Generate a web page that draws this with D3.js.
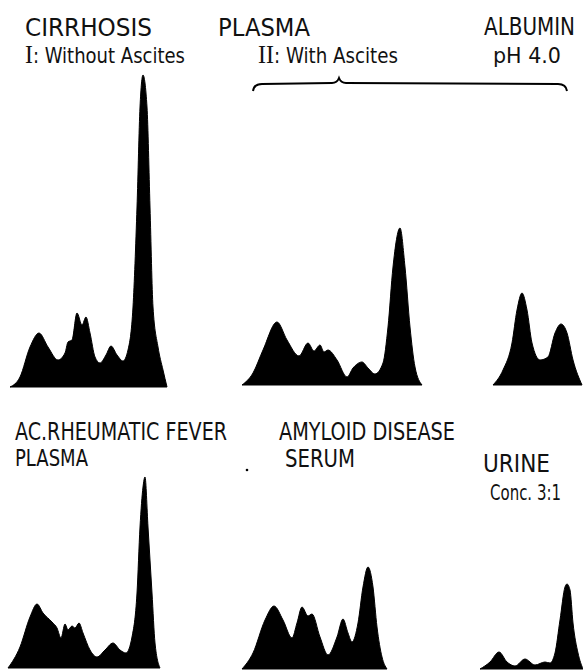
<!DOCTYPE html>
<html>
<head>
<meta charset="utf-8">
<script src="https://cdn.jsdelivr.net/npm/d3@7/dist/d3.min.js"></script>
<style>
  html, body { margin: 0; padding: 0; background: #fff; }
  svg { display: block; }
  text { font-family: "Liberation Sans Narrow", "DejaVu Sans Condensed", "Liberation Sans", sans-serif; fill: #111; }
</style>
</head>
<body>
<svg id="chart" width="583" height="671"></svg>
<script>
// ---- Data: electrophoretic patterns, [distance, height] in arbitrary units ----
const cirrhosisWithout = [[0,0],[10,10],[20,40],[29,54],[38,40],[48,27],[55,34],[58,45],[62,47],[67,74],[72,62],[76,70],[80,54],[85,30],[90,24],[96,32],[101,41],[107,32],[113,26],[118,37],[123,80],[127,180],[130,280],[133,312],[137,280],[140,180],[143,80],[148,40],[153,17],[157,0]];
const cirrhosisWith = [[0,0],[11,12],[21,35],[35,63],[45,45],[57,29],[66,42],[72,34],[78,40],[82,33],[86,35],[95,25],[105,8],[111,17],[120,23],[126,17],[133,11],[141,22],[146,58],[151,118],[158,157],[163,118],[168,58],[173,18],[180,0]];
const albuminPH4 = [[0,0],[10,15],[19,42],[24,75],[29,92],[34,75],[39,42],[47,25],[55,28],[62,52],[68,61],[74,52],[80,25],[89,0]];
const rheumaticPlasma = [[0,0],[12,21],[22,51],[29,64],[35,55],[44,46],[49,40],[53,30],[57,44],[60,38],[64,42],[67,40],[71,45],[75,35],[82,18],[89,11],[97,18],[105,25],[112,18],[118,15],[124,31],[129,75],[132,141],[135,181],[137,191],[140,141],[144,75],[147,25],[152,0]];
const amyloidSerum = [[0,0],[11,16],[23,49],[32,63],[41,49],[50,31],[55,46],[60,62],[66,53],[70,55],[78,32],[86,14],[95,32],[101,50],[106,36],[110,27],[116,46],[121,82],[126,102],[131,82],[135,42],[140,12],[145,0]];
const urineConc = [[0,0],[10,7],[19,17],[27,7],[35,3],[45,10],[55,4],[65,7],[70,6],[75,16],[80,49],[85,82],[87,85],[90,79],[93,46],[98,16],[103,0]];

const seriesList = [cirrhosisWithout, cirrhosisWith, albuminPH4, rheumaticPlasma, amyloidSerum, urineConc];

// label texts
const labelTexts = ["CIRRHOSIS", "PLASMA", "ALBUMIN", "I: Without Ascites", "II: With Ascites", "pH 4.0",
                    "AC.RHEUMATIC FEVER", "PLASMA", "AMYLOID DISEASE", "SERUM", "URINE", "Conc. 3:1"];

// ---- Layout (positions, not data) ----
const panelLayout = [
  {left: 10,  baseline: 387},
  {left: 242, baseline: 385},
  {left: 493, baseline: 385},
  {left: 8,   baseline: 668},
  {left: 242, baseline: 669},
  {left: 480, baseline: 669}
];
const labelLayout = [
  {x: 25,  y: 36,  w: 127, size: 25, anchor: "start"},
  {x: 218, y: 36,  w: 92,  size: 25, anchor: "start"},
  {x: 575, y: 35,  w: 91,  size: 24, anchor: "end"},
  {x: 25,  y: 63,  w: 160, size: 22, anchor: "start"},
  {x: 258, y: 63,  w: 140, size: 22, anchor: "start"},
  {x: 561, y: 63,  w: 68,  size: 22, anchor: "end"},
  {x: 15,  y: 440, w: 212, size: 25, anchor: "start"},
  {x: 15,  y: 466, w: 73,  size: 23, anchor: "start"},
  {x: 279, y: 440, w: 176, size: 25, anchor: "start"},
  {x: 285, y: 467, w: 70,  size: 25, anchor: "start"},
  {x: 550, y: 472, w: 67,  size: 25, anchor: "end"},
  {x: 561, y: 500, w: 71,  size: 22, anchor: "end"}
];

const svg = d3.select("#chart");

// ---- Draw patterns ----
seriesList.forEach((series, i) => {
  const L = panelLayout[i];
  const maxX = d3.max(series, d => d[0]);
  const maxY = d3.max(series, d => d[1]);
  const x = d3.scaleLinear().domain([0, maxX]).range([L.left, L.left + maxX]);
  const y = d3.scaleLinear().domain([0, maxY]).range([L.baseline, L.baseline - maxY]);
  const area = d3.area()
    .x(d => x(d[0]))
    .y0(y(0))
    .y1(d => y(d[1]))
    .curve(d3.curveMonotoneX);
  svg.append("path")
    .datum(series)
    .attr("d", area)
    .attr("fill", "#000")
    .attr("stroke", "#000")
    .attr("stroke-width", 1)
    .attr("stroke-linejoin", "round");
});

// ---- Labels ----
labelTexts.forEach((t, i) => {
  const L = labelLayout[i];
  const txt = svg.append("text")
    .attr("x", L.x)
    .attr("y", L.y)
    .attr("font-size", L.size)
    .attr("text-anchor", L.anchor)
    .attr("textLength", L.w)
    .attr("lengthAdjust", "spacingAndGlyphs");
  const m = t.match(/^(I+)(:.*)$/);
  if (m) {
    txt.append("tspan")
      .style("font-family", "'Liberation Serif', 'DejaVu Serif', serif")
      .attr("font-size", L.size + 4)
      .text(m[1]);
    txt.append("tspan").text(m[2]);
  } else {
    txt.text(t);
  }
});

// ---- Brace over group II ----
const brace = d3.path();
brace.moveTo(253, 91);
brace.quadraticCurveTo(254, 84, 262, 84);
brace.lineTo(332, 83);
brace.quadraticCurveTo(337, 83, 339, 78);
brace.quadraticCurveTo(341, 83, 346, 83);
brace.lineTo(558, 84);
brace.quadraticCurveTo(566, 84, 567, 91);
svg.append("path")
  .attr("d", brace.toString())
  .attr("fill", "none")
  .attr("stroke", "#000")
  .attr("stroke-width", 2);

// small stray dot as in the print
svg.append("circle").attr("cx", 247).attr("cy", 470).attr("r", 1.3).attr("fill", "#000");
</script>
</body>
</html>
